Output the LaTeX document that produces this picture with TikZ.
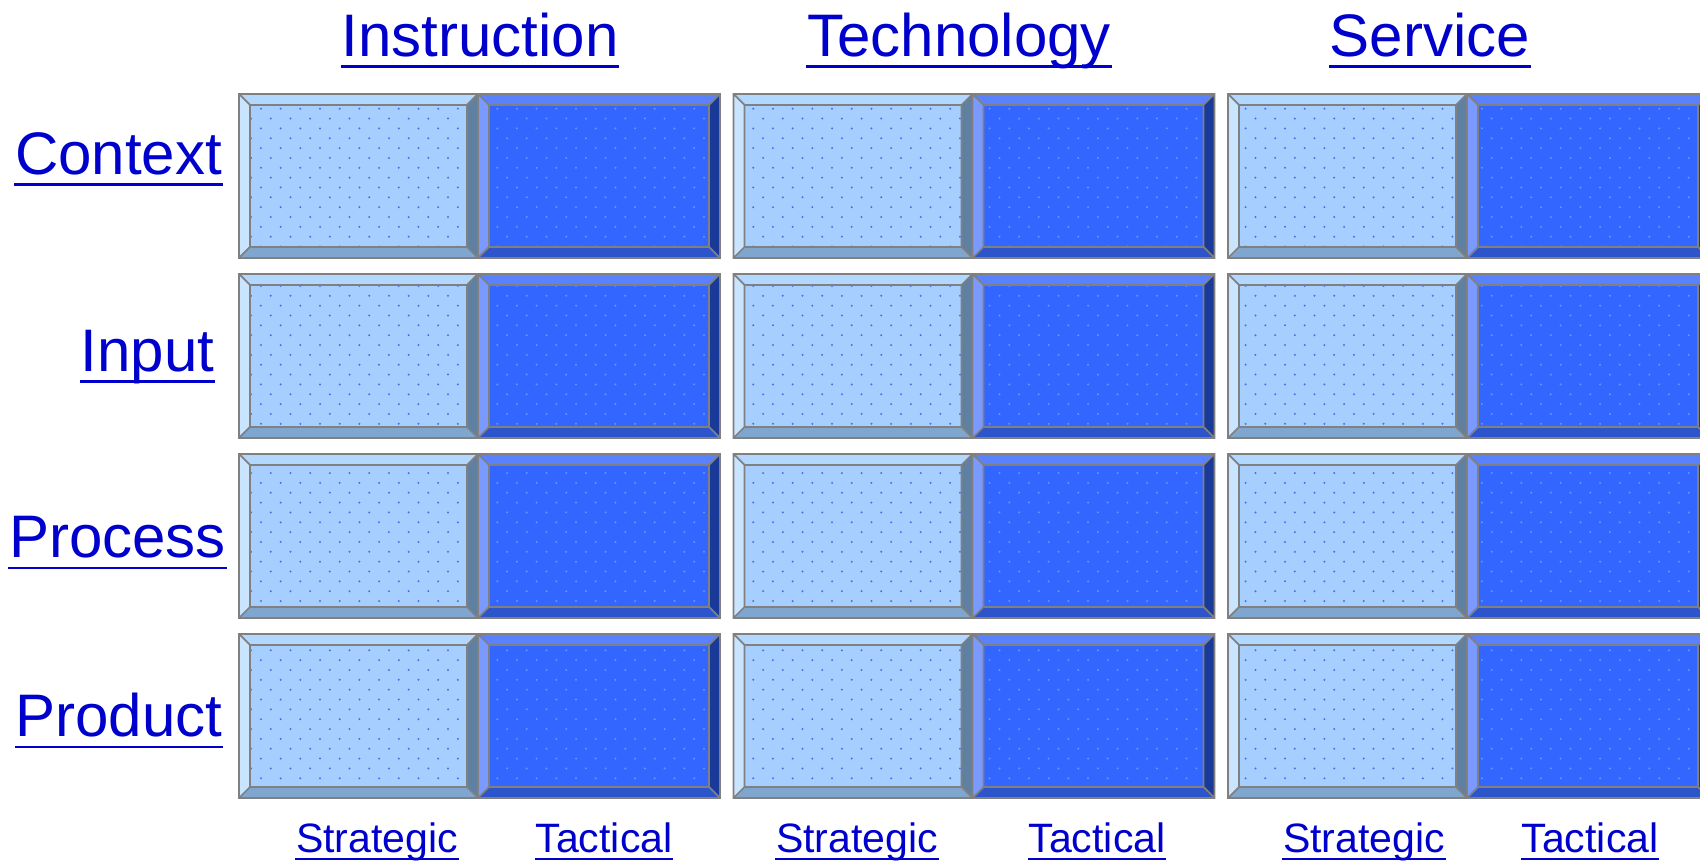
\documentclass[tikz,border=0pt]{standalone}
\usepackage{fontspec}
\setmainfont{Liberation Sans}
\usetikzlibrary{patterns}
\definecolor{textblue}{HTML}{0000CC}
\definecolor{edgegray}{HTML}{808080}
\definecolor{lightface}{HTML}{A6CFFF}
\definecolor{lighttop}{HTML}{B2D8FF}
\definecolor{lightleft}{HTML}{C8E4FF}
\definecolor{lightright}{HTML}{5F80A0}
\definecolor{lightbottom}{HTML}{7FA6CF}
\definecolor{lightdots}{HTML}{4A70E8}
\definecolor{darkface}{HTML}{3366FF}
\definecolor{darktop}{HTML}{5A82FF}
\definecolor{darkleft}{HTML}{7A9AFF}
\definecolor{darkright}{HTML}{1A3A9A}
\definecolor{darkdots}{HTML}{6A92FF}
\definecolor{darkbottom}{HTML}{2C55CC}
% sparse staggered dots for the box faces
\pgfdeclarepatternformonly{sparse dots}{\pgfqpoint{-1pt}{-1pt}}{\pgfqpoint{6.6pt}{6.6pt}}{\pgfqpoint{5.6pt}{5.6pt}}{%
  \pgfpathcircle{\pgfqpoint{1.4pt}{1.4pt}}{0.32pt}
  \pgfpathcircle{\pgfqpoint{4.2pt}{4.2pt}}{0.32pt}
  \pgfusepath{fill}}
\tikzset{x=0.01cm, y=-0.01cm, % one unit is one pixel of the reference, y runs down
  heading/.style={           % big underlined labels round the grid
    font=\fontsize{17.07}{20}\selectfont,
    text=textblue, inner sep=0pt, anchor=base},
  subheading/.style={        % small labels under the grid
    font=\fontsize{11.67}{14}\selectfont,
    text=textblue, inner sep=0pt, anchor=base},
  big uline/.style={draw=textblue, line width=0.85pt},
  small uline/.style={draw=textblue, line width=0.57pt},
  edge line/.style={draw=edgegray, line width=0.5pt}}
% one bevelled box: x1, y1, x2, y2, colour set (light or dark)
\newcommand\bevelbox[5]{%
  \fill[#5top] (#1,#2) -- (#3,#2) -- (#3-11,#2+11) -- (#1+11,#2+11) -- cycle;
  \fill[#5bottom] (#1,#4) -- (#3,#4) -- (#3-11,#4-11) -- (#1+11,#4-11) -- cycle;
  \fill[#5left] (#1,#2) -- (#1+11,#2+11) -- (#1+11,#4-11) -- (#1,#4) -- cycle;
  \fill[#5right] (#3,#2) -- (#3-11,#2+11) -- (#3-11,#4-11) -- (#3,#4) -- cycle;
  \fill[#5face] (#1+11,#2+11) rectangle (#3-11,#4-11);
  \fill[pattern=sparse dots, pattern color=#5dots] (#1+11,#2+11) rectangle (#3-11,#4-11);
  \draw[edge line] (#1,#2) rectangle (#3,#4) (#1+11,#2+11) rectangle (#3-11,#4-11)
    (#1,#2) -- (#1+11,#2+11) (#3,#2) -- (#3-11,#2+11)
    (#1,#4) -- (#1+11,#4-11) (#3,#4) -- (#3-11,#4-11);
}
\begin{document}
\begin{tikzpicture}
  \clip (0,0) rectangle (1700,862);

  % the grid: three groups of strategic/tactical pairs, four rows
  \foreach \gx in {239,733.5,1228}
    \foreach \ry in {94,274,454,634} {
      \bevelbox{\gx}{\ry}{\gx+239}{\ry+164}{light}
      \bevelbox{\gx+239}{\ry}{\gx+481}{\ry+164}{dark}
    }

  \node [heading] (hinstr) at (480,57) {Instruction};
  \node [heading] (htech) at (959,57) {Technology};
  \node [heading] (hserv) at (1430,57) {Service};

  \node [heading] (rcontext) at (118.5,175) {Context};
  \node [heading] (rinput) at (147.5,372) {Input};
  \node [heading] (rprocess) at (117.5,558) {Process};
  \node [heading] (rproduct) at (119,737) {Product};

  \node [subheading] (strat1) at (377,853) {Strategic};
  \node [subheading] (tact1) at (604,853) {Tactical};
  \node [subheading] (strat2) at (857,853) {Strategic};
  \node [subheading] (tact2) at (1097,853) {Tactical};
  \node [subheading] (strat3) at (1364,853) {Strategic};
  \node [subheading] (tact3) at (1590,853) {Tactical};

  % underlines
  \foreach \n in {hinstr,htech,hserv,rcontext,rinput,rprocess,rproduct}
    \draw [big uline] ([yshift=-0.1cm]\n.base west) -- ([yshift=-0.1cm]\n.base east);
  \foreach \n in {strat1,tact1,strat2,tact2,strat3,tact3}
    \draw [small uline] ([yshift=-0.06cm]\n.base west) -- ([yshift=-0.06cm]\n.base east);

\end{tikzpicture}
\end{document}
